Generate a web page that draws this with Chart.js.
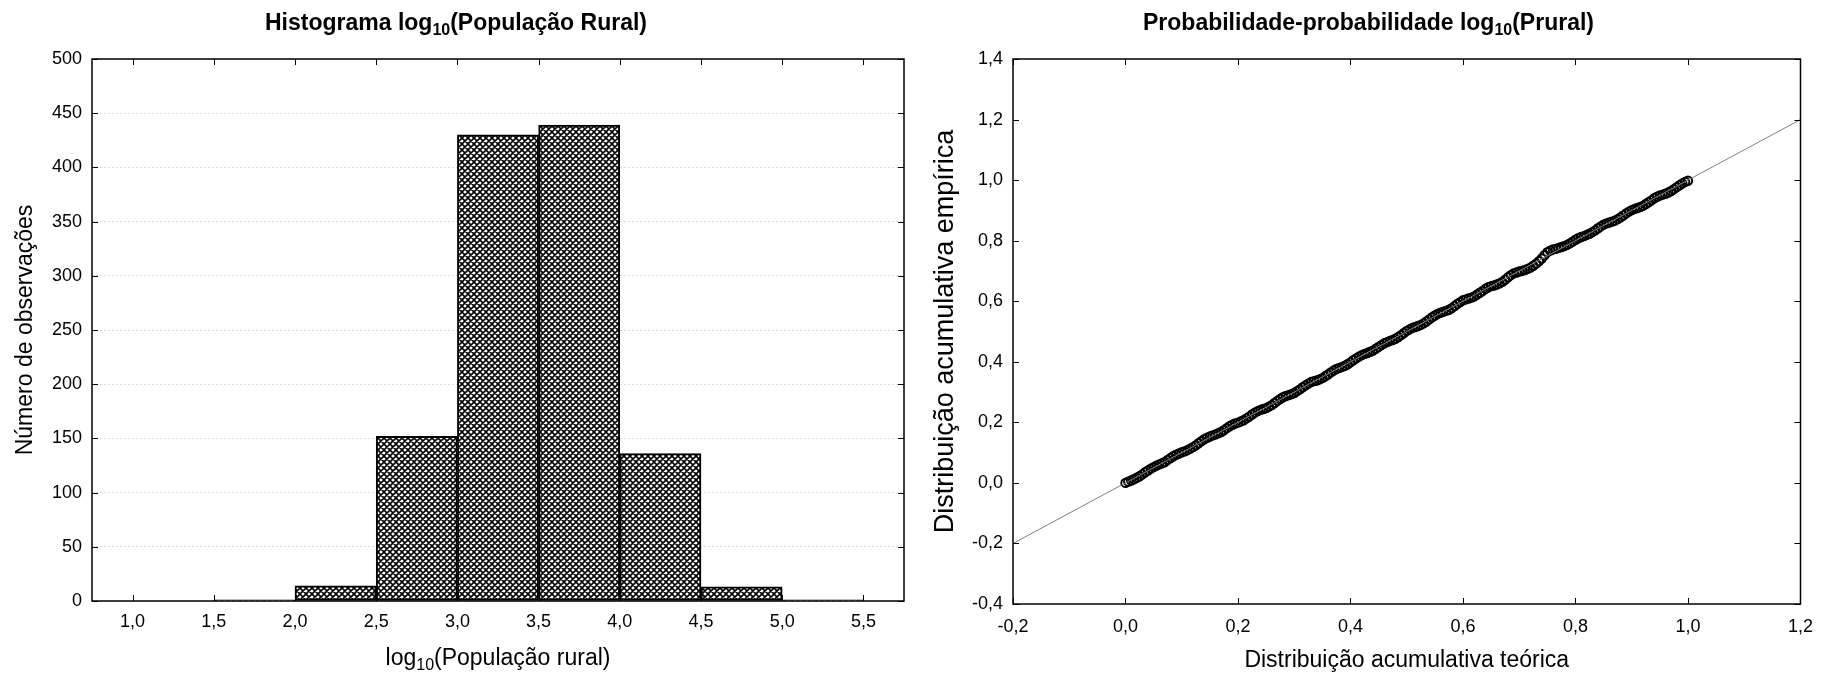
<!DOCTYPE html>
<html><head><meta charset="utf-8">
<script src="https://cdn.jsdelivr.net/npm/chart.js@4/dist/chart.umd.min.js"></script>
<style>
html,body{margin:0;padding:0;background:#fff;}
#wrap{position:relative;width:1825px;height:675px;overflow:hidden;}
#c1{position:absolute;left:0;top:0;}
#c2{position:absolute;left:912px;top:0;}
</style></head><body>
<div id="wrap">
<canvas id="c1" width="912" height="675"></canvas>
<canvas id="c2" width="913" height="675"></canvas>
</div>
<script>
// ---------- DATA ----------
const histBinCenters = [1.75, 2.25, 2.75, 3.25, 3.75, 4.25, 4.75, 5.25];
const histCounts     = [1, 14, 152, 430, 439, 136, 13, 1];
const histXTicks = [1.0, 1.5, 2.0, 2.5, 3.0, 3.5, 4.0, 4.5, 5.0, 5.5];
const histYTicks = [0, 50, 100, 150, 200, 250, 300, 350, 400, 450, 500];

const ppTheoretical = [0.00,0.01,0.02,0.03,0.04,0.05,0.06,0.07,0.08,0.09,0.10,0.11,0.12,0.13,0.14,0.15,0.16,0.17,0.18,0.19,
0.20,0.21,0.22,0.23,0.24,0.25,0.26,0.27,0.28,0.29,0.30,0.31,0.32,0.33,0.34,0.35,0.36,0.37,0.38,0.39,
0.40,0.41,0.42,0.43,0.44,0.45,0.46,0.47,0.48,0.49,0.50,0.51,0.52,0.53,0.54,0.55,0.56,0.57,0.58,0.59,
0.60,0.61,0.62,0.63,0.64,0.65,0.66,0.67,0.68,0.69,0.70,0.71,0.72,0.73,0.74,0.75,0.76,0.77,0.78,0.79,
0.80,0.81,0.82,0.83,0.84,0.85,0.86,0.87,0.88,0.89,0.90,0.91,0.92,0.93,0.94,0.95,0.96,0.97,0.98,0.99,1.00];
const ppEmpirical = [0.000,0.008,0.017,0.028,0.041,0.052,0.061,0.069,0.082,0.093,0.101,0.108,0.118,0.131,0.144,0.153,0.160,0.168,0.181,0.192,
0.199,0.207,0.219,0.232,0.241,0.247,0.257,0.271,0.283,0.290,0.297,0.309,0.322,0.333,0.338,0.346,0.358,0.371,0.380,0.387,
0.398,0.411,0.422,0.429,0.437,0.449,0.461,0.469,0.476,0.488,0.502,0.512,0.518,0.527,0.540,0.553,0.562,0.568,0.577,0.591,
0.603,0.609,0.616,0.628,0.641,0.650,0.655,0.664,0.679,0.692,0.698,0.703,0.711,0.724,0.741,0.762,0.771,0.776,0.782,0.791,
0.803,0.812,0.819,0.828,0.841,0.853,0.860,0.866,0.877,0.890,0.901,0.908,0.915,0.927,0.940,0.949,0.955,0.964,0.977,0.989,0.998];
const ppTheoreticalMid = [0.005,0.015,0.025,0.035,0.045,0.055,0.065,0.075,0.085,0.095,0.105,0.115,0.125,0.135,0.145,0.155,0.165,0.175,0.185,0.195,
0.205,0.215,0.225,0.235,0.245,0.255,0.265,0.275,0.285,0.295,0.305,0.315,0.325,0.335,0.345,0.355,0.365,0.375,0.385,0.395,
0.405,0.415,0.425,0.435,0.445,0.455,0.465,0.475,0.485,0.495,0.505,0.515,0.525,0.535,0.545,0.555,0.565,0.575,0.585,0.595,
0.605,0.615,0.625,0.635,0.645,0.655,0.665,0.675,0.685,0.695,0.705,0.715,0.725,0.735,0.745,0.755,0.765,0.775,0.785,0.795,
0.805,0.815,0.825,0.835,0.845,0.855,0.865,0.875,0.885,0.895,0.905,0.915,0.925,0.935,0.945,0.955,0.965,0.975,0.985,0.995];
const ppEmpiricalMid = [0.004,0.012,0.022,0.035,0.047,0.057,0.065,0.076,0.088,0.097,0.104,0.113,0.124,0.138,0.149,0.157,0.164,0.174,0.187,0.196,
0.203,0.213,0.226,0.237,0.244,0.252,0.264,0.277,0.287,0.293,0.303,0.316,0.328,0.336,0.342,0.352,0.365,0.376,0.383,0.392,
0.405,0.417,0.426,0.433,0.443,0.455,0.465,0.472,0.482,0.495,0.507,0.515,0.522,0.533,0.547,0.558,0.565,0.572,0.584,0.597,
0.606,0.612,0.622,0.634,0.646,0.652,0.659,0.671,0.686,0.695,0.700,0.707,0.717,0.732,0.752,0.767,0.773,0.779,0.786,0.797,
0.808,0.815,0.823,0.834,0.847,0.857,0.863,0.871,0.883,0.896,0.905,0.911,0.921,0.933,0.945,0.952,0.959,0.970,0.983,0.994];
const refLineX = [-0.2, 1.2];
const refLineY = [-0.2, 1.2];
const ppTicks = [-0.2, 0.0, 0.2, 0.4, 0.6, 0.8, 1.0, 1.2];
const ppYTicks = [-0.4, -0.2, 0.0, 0.2, 0.4, 0.6, 0.8, 1.0, 1.2, 1.4];

// Texts (with subscript parts)
const leftTitleParts  = [['Histograma log', false], ['10', true], ['(População Rural)', false]];
const rightTitleParts = [['Probabilidade-probabilidade log', false], ['10', true], ['(Prural)', false]];
const leftXTitleParts = [['log', false], ['10', true], ['(População rural)', false]];

// ---------- STYLE ----------
const FAMILY = "'Liberation Sans', Arial, sans-serif";
Chart.defaults.font.family = FAMILY;
Chart.defaults.color = '#000';
const fmt1 = v => Number(v).toFixed(1).replace('.', ',');

function makeHatch(){
  const c = document.createElement('canvas'); c.width = 6; c.height = 6;
  const g = c.getContext('2d');
  g.fillStyle = '#fff'; g.fillRect(0,0,6,6);
  g.strokeStyle = '#000'; g.lineWidth = 1.6;
  g.beginPath();
  for (const k of [-6,0,6]) { g.moveTo(k,0); g.lineTo(k+6,6); g.moveTo(k,6); g.lineTo(k+6,0); }
  g.stroke();
  return document.getElementById('c1').getContext('2d').createPattern(c,'repeat');
}

function drawRich(ctx, parts, cx, cy, size, weight) {
  const subSize = Math.round(size * 0.68);
  const fMain = `${weight} ${size}px ${FAMILY}`;
  const fSub = `${weight} ${subSize}px ${FAMILY}`;
  let total = 0;
  const widths = parts.map(([t, sub]) => { ctx.font = sub ? fSub : fMain; const w = ctx.measureText(t).width; total += w; return w; });
  let x = cx - total / 2;
  ctx.save();
  ctx.fillStyle = '#000'; ctx.textAlign = 'left'; ctx.textBaseline = 'alphabetic';
  const base = cy + size * 0.36;
  parts.forEach(([t, sub], i) => {
    ctx.font = sub ? fSub : fMain;
    ctx.fillText(t, x, sub ? base + size * 0.22 : base);
    x += widths[i];
  });
  ctx.restore();
}

const richTexts = {
  id: 'richTexts',
  afterDraw(chart, args, opts) {
    const ctx = chart.ctx, a = chart.chartArea;
    (opts.items || []).forEach(it => {
      const cx = it.center === 'area' ? (a.left + a.right) / 2 : chart.width / 2;
      drawRich(ctx, it.parts, cx, it.y, it.size, it.weight || 'normal');
    });
  }
};

const frameTicks = {
  id: 'frameTicks',
  afterDraw(chart) {
    const {ctx, chartArea: a} = chart;
    const xs = chart.scales.x, ys = chart.scales.y;
    const L = 6;
    ctx.save();
    ctx.strokeStyle = '#000'; ctx.lineWidth = 1;
    ctx.beginPath();
    xs.ticks.forEach(t => {
      const p = Math.round(xs.getPixelForValue(t.value)) + 0.5;
      ctx.moveTo(p, a.bottom); ctx.lineTo(p, a.bottom - L);
      ctx.moveTo(p, a.top); ctx.lineTo(p, a.top + L);
    });
    ys.ticks.forEach(t => {
      const p = Math.round(ys.getPixelForValue(t.value)) + 0.5;
      ctx.moveTo(a.left, p); ctx.lineTo(a.left + L, p);
      ctx.moveTo(a.right, p); ctx.lineTo(a.right - L, p);
    });
    ctx.stroke();
    ctx.lineWidth = 1.5;
    ctx.strokeRect(a.left, a.top, a.right - a.left, a.bottom - a.top);
    ctx.restore();
  }
};

// ---------- LEFT: histogram ----------
new Chart(document.getElementById('c1'), {
  type: 'bar',
  data: {
    datasets: [{
      data: histBinCenters.map((x,i) => ({x, y: histCounts[i]})),
      backgroundColor: makeHatch(),
      borderColor: '#000',
      borderWidth: 2,
      borderSkipped: false,
      barPercentage: 1,
      categoryPercentage: 1
    }]
  },
  options: {
    responsive: false, animation: false,
    layout: { padding: { left: 0, right: 8, top: 59, bottom: 0 } },
    plugins: {
      legend: { display: false }, tooltip: { enabled: false }, title: { display: false },
      richTexts: { items: [
        { parts: leftTitleParts, y: 22, size: 23, weight: 'bold', center: 'canvas' },
        { parts: leftXTitleParts, y: 657, size: 23, center: 'area' }
      ] }
    },
    scales: {
      x: {
        type: 'linear', min: 0.75, max: 5.75, offset: false,
        afterBuildTicks: s => { s.ticks = histXTicks.map(v => ({value: v})); },
        afterFit: s => { s.height = 74; },
        grid: { display: false, drawTicks: false },
        border: { display: false },
        ticks: { callback: fmt1, font: { size: 18 }, padding: 10, maxRotation: 0, autoSkip: false }
      },
      y: {
        min: 0, max: 500,
        afterBuildTicks: s => { s.ticks = histYTicks.map(v => ({value: v})); },
        afterFit: s => { s.width = 92; },
        grid: { display: true, drawTicks: false, color: '#dcdcdc', lineWidth: 1 },
        border: { display: false, dash: [2, 2] },
        ticks: { font: { size: 18 }, padding: 10 },
        title: { display: true, text: 'Número de observações', font: { size: 23 }, padding: { top: 12, bottom: 0 } }
      }
    }
  },
  plugins: [frameTicks, richTexts]
});

// ---------- RIGHT: P-P plot ----------
const ppPoints = ppTheoretical.map((x,i) => ({x, y: ppEmpirical[i]}))
  .concat(ppTheoreticalMid.map((x,i) => ({x, y: ppEmpiricalMid[i]})))
  .sort((p, q) => p.x - q.x);

new Chart(document.getElementById('c2'), {
  type: 'scatter',
  data: {
    datasets: [
      {
        type: 'line', order: 0,
        data: refLineX.map((x,i) => ({x, y: refLineY[i]})),
        borderColor: '#808080', borderWidth: 1, pointRadius: 0, fill: false
      },
      {
        order: 1,
        data: ppPoints,
        pointRadius: 4.2, pointBorderWidth: 2,
        borderColor: '#000', backgroundColor: 'rgba(255,255,255,0)'
      }
    ]
  },
  options: {
    responsive: false, animation: false,
    layout: { padding: { left: 0, right: 21, top: 59, bottom: 0 } },
    plugins: {
      legend: { display: false }, tooltip: { enabled: false }, title: { display: false },
      richTexts: { items: [
        { parts: rightTitleParts, y: 22, size: 23, weight: 'bold', center: 'canvas' }
      ] }
    },
    scales: {
      x: {
        type: 'linear', min: -0.2, max: 1.2,
        afterBuildTicks: s => { s.ticks = ppTicks.map(v => ({value: v})); },
        afterFit: s => { s.height = 71; },
        grid: { display: false, drawTicks: false },
        border: { display: false },
        ticks: { callback: fmt1, font: { size: 18 }, padding: 12, maxRotation: 0, autoSkip: false },
        title: { display: true, text: 'Distribuição acumulativa teórica', font: { size: 23 }, padding: { top: 0, bottom: 1 } }
      },
      y: {
        type: 'linear', min: -0.4, max: 1.4,
        afterBuildTicks: s => { s.ticks = ppYTicks.map(v => ({value: v})); },
        afterFit: s => { s.width = 101; },
        grid: { display: false, drawTicks: false },
        border: { display: false },
        ticks: { callback: fmt1, font: { size: 18 }, padding: 10 },
        title: { display: true, text: 'Distribuição acumulativa empírica', font: { size: 27 }, padding: { top: 17, bottom: 0 } }
      }
    }
  },
  plugins: [frameTicks, richTexts]
});
</script>
</body></html>
